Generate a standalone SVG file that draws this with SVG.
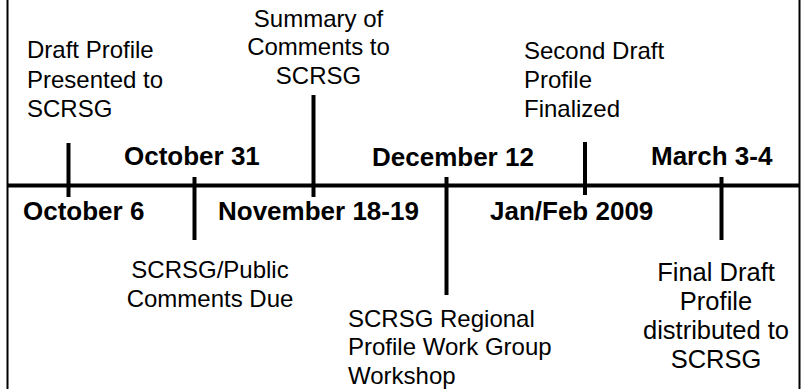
<svg xmlns="http://www.w3.org/2000/svg" width="807" height="389" viewBox="0 0 807 389">
<style>
.t{font-family:"Liberation Sans",Arial,sans-serif;font-size:24px;fill:#000}
.f{font-size:25.5px}
.b{font-family:"Liberation Sans",Arial,sans-serif;font-size:26px;font-weight:bold;fill:#000}
.m{text-anchor:middle}
.ln{stroke:#000;fill:none}
</style>
<rect width="807" height="389" fill="#fff"/>
<g id="frame">
<line class="ln" x1="7.5" y1="0" x2="7.5" y2="389" stroke-width="2"/>
<line class="ln" x1="799.5" y1="0" x2="799.5" y2="389" stroke-width="2"/>
</g>
<g id="connectors">
<line class="ln" x1="7" y1="185.5" x2="800" y2="185.5" stroke-width="4"/>
<line class="ln" x1="68.5" y1="143" x2="68.5" y2="197" stroke-width="4"/>
<line class="ln" x1="194.5" y1="177" x2="194.5" y2="240" stroke-width="4"/>
<line class="ln" x1="313.5" y1="95" x2="313.5" y2="197" stroke-width="4"/>
<line class="ln" x1="446.5" y1="177" x2="446.5" y2="295" stroke-width="4"/>
<line class="ln" x1="585" y1="142" x2="585" y2="195" stroke-width="4"/>
<line class="ln" x1="721.5" y1="177" x2="721.5" y2="240" stroke-width="4"/>
</g>
<g id="oct6">
<text class="t" x="27" y="58">Draft Profile</text>
<text class="t" x="27" y="87.5">Presented to</text>
<text class="t" x="27" y="117">SCRSG</text>
<text class="b" x="23" y="220">October 6</text>
</g>
<g id="oct31">
<text class="b" x="124" y="165">October 31</text>
<text class="t m" x="210" y="277.5">SCRSG/Public</text>
<text class="t m" x="210" y="306.5">Comments Due</text>
</g>
<g id="nov18">
<text class="t m" x="318.5" y="26.5">Summary of</text>
<text class="t m" x="318.5" y="55">Comments to</text>
<text class="t m" x="318.5" y="83.5">SCRSG</text>
<text class="b" x="218" y="220">November 18-19</text>
</g>
<g id="dec12">
<text class="b" x="372" y="165.5">December 12</text>
<text class="t" x="348" y="326.5">SCRSG Regional</text>
<text class="t" x="348" y="355">Profile Work Group</text>
<text class="t" x="348" y="383.5">Workshop</text>
</g>
<g id="janfeb">
<text class="t" x="524" y="59">Second Draft</text>
<text class="t" x="524" y="88">Profile</text>
<text class="t" x="524" y="117">Finalized</text>
<text class="b" x="490" y="220">Jan/Feb 2009</text>
</g>
<g id="march">
<text class="b" x="651" y="165">March 3-4</text>
<text class="t f m" x="716" y="280.5">Final Draft</text>
<text class="t f m" x="716" y="309.5">Profile</text>
<text class="t f m" x="716" y="338.5">distributed to</text>
<text class="t f m" x="716" y="367.5">SCRSG</text>
</g>
</svg>
